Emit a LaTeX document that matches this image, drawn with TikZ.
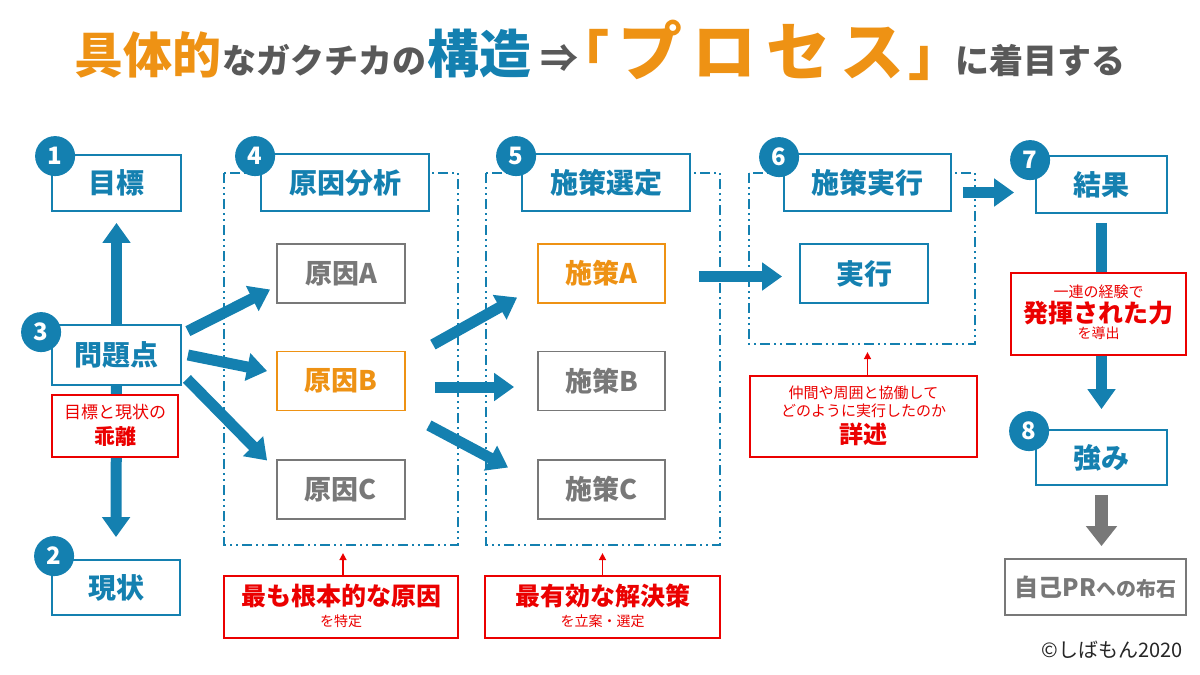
\documentclass[tikz,border=0pt]{standalone}
\usepackage{fontspec}
\setmainfont{Noto Sans CJK JP}
\usetikzlibrary{arrows.meta,calc}
\definecolor{mblue}{RGB}{20,128,176}
\definecolor{morange}{RGB}{238,146,20}
\definecolor{mgray}{RGB}{120,120,120}
\definecolor{tgray}{RGB}{89,89,89}
\definecolor{mred}{RGB}{235,0,0}
\newcommand\fsz[1]{\fontsize{#1}{#1}\selectfont}
\pgfdeclarelayer{background}
\pgfsetlayers{background,main}
\tikzset{
  box/.style={draw, line width=1.8pt, fill=white, inner sep=0pt, font=\bfseries\fsz{28}},
  bluebox/.style={box, draw=mblue, text=mblue},
  graybox/.style={box, draw=mgray, text=mgray, font=\bfseries\fsz{27}},
  orangebox/.style={box, draw=morange, text=morange, font=\bfseries\fsz{27}},
  redbox/.style={draw=mred, line width=1.8pt, fill=white, inner sep=0pt},
  redtext/.style={text=mred, inner sep=0pt},
  titletext/.style={anchor=base west, inner sep=0pt, font=\bfseries},
  numc/.style={circle, fill=mblue, text=white, minimum size=40pt, inner sep=0pt, font=\bfseries\fsz{24}},
  container/.style={draw=mblue, line width=1.5pt, dash pattern=on 10pt off 4pt on 2pt off 4pt on 2pt off 4pt},
  bigarrow/.style={draw=mblue, line width=11pt, -{Triangle[length=20pt,width=27pt]}},
  grayarrow/.style={draw=mgray, line width=13pt, -{Triangle[length=20pt,width=30pt]}},
  redarrow/.style={draw=mred, line width=1.5pt, -{Triangle[length=7pt,width=7pt]}}
}
\begin{document}
\begin{tikzpicture}[x=1pt,y=-1pt]
\useasboundingbox (0,0) rectangle (1200,675);
% title
\node[titletext, text=morange, font=\bfseries\fsz{49}] (t1) at (74,73) {具体的};
\node[titletext, text=tgray, font=\bfseries\fsz{34}] (t2) at (222,73) {なガクチカの};
\node[titletext, text=mblue, font=\bfseries\fsz{52}] (t3) at (427,73) {構造};
\node[titletext] (t4) at (540,75) {\raisebox{3pt}{\color{tgray}\fsz{38}⇒}\hspace{4pt}{\color{morange}\fsz{54}｢}\hspace{9pt}{\color{morange}\fsz{64}プ\hspace{10pt}ロ\hspace{10pt}セ\hspace{10pt}ス}\hspace{4pt}{\color{morange}\fsz{54}｣}};
\node[titletext, text=tgray, font=\bfseries\fsz{34}] (t5) at (955,73) {に着目する};

% column 1
\node[bluebox, minimum width=129pt, minimum height=56pt] (mokuhyo) at (116.5,183) {目標};
\node[bluebox, minimum width=129pt, minimum height=60pt] (mondai) at (116.5,355) {問題点};
\node[bluebox, minimum width=128pt, minimum height=55pt] (genjo) at (116,587.5) {現状};

% column 4
\node[bluebox, minimum width=168pt, minimum height=57pt] (bunseki) at (345,182.5) {原因分析};
\node[graybox, minimum width=128pt, minimum height=59pt] (genA) at (341,273.5) {原因A};
\node[orangebox, minimum width=128pt, minimum height=59pt] (genB) at (341,381) {原因B};
\node[graybox, minimum width=128pt, minimum height=59pt] (genC) at (341,489.5) {原因C};

% column 5
\node[bluebox, minimum width=168pt, minimum height=57pt] (sentei) at (606,182.5) {施策選定};
\node[orangebox, minimum width=127pt, minimum height=59pt] (sakuA) at (601.5,273.5) {施策A};
\node[graybox, minimum width=127pt, minimum height=59pt] (sakuB) at (601.5,381) {施策B};
\node[graybox, minimum width=127pt, minimum height=59pt] (sakuC) at (601.5,489.5) {施策C};

% column 6
\node[bluebox, minimum width=167pt, minimum height=57pt] (jikko) at (867.5,182.5) {施策実行};
\node[bluebox, minimum width=128pt, minimum height=59pt] (jikko2) at (864,273.5) {実行};

% column 7
\node[bluebox, minimum width=131pt, minimum height=57pt] (kekka) at (1101.5,184.5) {結果};
\node[bluebox, minimum width=131pt, minimum height=55pt] (tsuyomi) at (1101.5,457.5) {強み};
\node[box, draw=mgray, text=mgray, font=\bfseries, minimum width=181pt, minimum height=56pt] (selfpr) at (1095.5,587) {{\fsz{24}自己PR}{\fsz{20}への布石}};

% red boxes
\node[redbox, minimum width=126pt, minimum height=62pt] (kairi) at (115,426) {};
\node[redtext, font=\fsz{17}] (kairia) at (115,412) {目標と現状の};
\node[redtext, font=\bfseries\fsz{21}] (kairib) at (115,437) {乖離};

\node[redbox, minimum width=234pt, minimum height=62pt] (red1) at (341,607) {};
\node[redtext, font=\bfseries\fsz{25}] (red1a) at (341,596) {最も根本的な原因};
\node[redtext, font=\fsz{14}] (red1b) at (341,621) {を特定};

\node[redbox, minimum width=235pt, minimum height=62pt] (red2) at (602.5,607) {};
\node[redtext, font=\bfseries\fsz{25}] (red2a) at (602.5,596) {最有効な解決策};
\node[redtext, font=\fsz{14}] (red2b) at (602.5,621) {を立案・選定};

\node[redbox, minimum width=227pt, minimum height=81pt] (red3) at (863.5,416.5) {};
\node[redtext, font=\fsz{15}] (red3a) at (863.5,393) {仲間や周囲と協働して};
\node[redtext, font=\fsz{15}] (red3b) at (863.5,411) {どのように実行したのか};
\node[redtext, font=\bfseries\fsz{24}] (red3c) at (863.5,434) {詳述};

\node[redbox, minimum width=175pt, minimum height=82pt] (red4) at (1098.5,314) {};
\node[redtext, font=\fsz{15}] (red4a) at (1098.5,292) {一連の経験で};
\node[redtext, font=\bfseries\fsz{25}] (red4b) at (1098.5,313) {発揮された力};
\node[redtext, font=\fsz{14}] (red4c) at (1098.5,333) {を導出};

% containers
\coordinate (c4a) at (224,173); \coordinate (c4b) at (458,545);
\coordinate (c5a) at (486,173); \coordinate (c5b) at (720,545);
\coordinate (c6a) at (749,173); \coordinate (c6b) at (975,344);

\begin{pgfonlayer}{background}
\draw[container] (c4a) rectangle (c4b);
\draw[container] (c5a) rectangle (c5b);
\draw[container] (c6a) rectangle (c6b);
% arrows
\draw[bigarrow] (mondai.north) -- ($(mokuhyo.south)+(0,11)$);
\draw[bigarrow] (mondai.south) -- ($(genjo.north)+(0,-22)$);
\draw[bigarrow] ($(mondai.north east)+(6,7)$) -- ($(genA.west)+(-6,16)$);
\draw[bigarrow] ($(mondai.east)+(6,0)$) -- ($(genB.west)+(-9,-10)$);
\draw[bigarrow] ($(mondai.south east)+(5,-7)$) -- ($(genC.west)+(-9,-29)$);
\draw[bigarrow] ($(genB.north east)+(27,-6)$) -- ($(sakuA.west)+(-20,24)$);
\draw[bigarrow] ($(genB.east)+(29,6)$) -- ($(sakuB.west)+(-23,6)$);
\draw[bigarrow] ($(genB.south east)+(23,14)$) -- ($(sakuC.west)+(-29,-22)$);
\draw[bigarrow] ($(sakuA.east)+(33,3)$) -- ($(jikko2.west)+(-17,3)$);
\draw[bigarrow] ($(jikko.east)+(11,10)$) -- ($(kekka.west)+(-21,8)$);
\draw[bigarrow] ($(kekka.south)+(0,9)$) -- ($(tsuyomi.north)+(0,-20)$);
\draw[grayarrow] ($(tsuyomi.south)+(0,9)$) -- ($(selfpr.north)+(6,-12)$);
\end{pgfonlayer}

% red arrows
\draw[redarrow] ($(red1.north)+(2,0)$) -- ($(red1.north)+(2,-22)$);
\draw[redarrow] (red2.north) -- ($(red2.north)+(0,-22)$);
\draw[redarrow] ($(red3.north)+(4,0)$) -- ($(red3.north)+(4,-23)$);

% number circles
\node[numc] (n1) at ($(mokuhyo.north west)+(4,2)$) {1};
\node[numc] (n2) at ($(genjo.north west)+(3,-3)$) {2};
\node[numc] (n3) at ($(mondai.north west)+(-10,8)$) {3};
\node[numc] (n4) at ($(bunseki.north west)+(-5,3)$) {4};
\node[numc] (n5) at ($(sentei.north west)+(-5,3)$) {5};
\node[numc] (n6) at ($(jikko.north west)+(-4,4)$) {6};
\node[numc] (n7) at ($(kekka.north west)+(-5,5)$) {7};
\node[numc] (n8) at ($(tsuyomi.north west)+(-6,2)$) {8};

% copyright
\node[anchor=east, inner sep=0pt, font=\fsz{20}, text=black!85] (copy) at (1183,650) {©しばもん2020};
\end{tikzpicture}
\end{document}
